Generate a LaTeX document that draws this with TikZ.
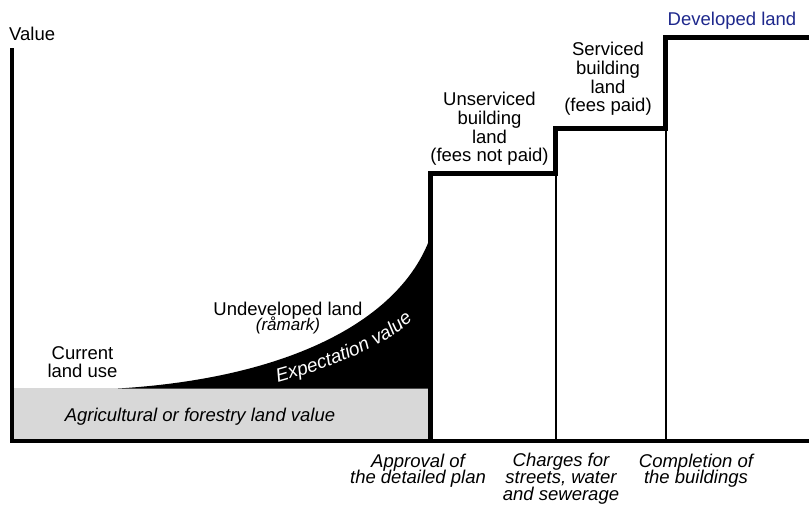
\documentclass[tikz,border=0pt]{standalone}
\usepackage{fontspec}
\setmainfont{Liberation Sans}
\usetikzlibrary{decorations.text}
\definecolor{devblue}{RGB}{30,40,140}
\definecolor{agrigrey}{RGB}{216,216,216}
\begin{document}
\begin{tikzpicture}[x=1pt,y=-1pt,
  lbl/.style={inner sep=0pt, align=center, font={\fontsize{18.5}{18.6}\selectfont\lineskiplimit=-50pt}},
  ilbl/.style={inner sep=0pt, align=center, font={\fontsize{18.5}{16.6}\selectfont\itshape\lineskiplimit=-50pt}},
  axisline/.style={line width=3.5pt},
  stepline/.style={line width=5pt, line join=miter},
  divline/.style={line width=2pt}]
\useasboundingbox (0,0) rectangle (809,504);

% agricultural base value
\fill[agrigrey] (14,388) rectangle (428,440);
% expectation value
\fill[black] (118,388.5) .. controls (290,378) and (400,320) .. (430,238) -- (430,388.5) -- cycle;
\path[decorate, decoration={text along path, text align=center, text color=white,
  text={|\fontsize{19}{19}\selectfont\itshape|Expectation value}}]
  (268,385) .. controls (320,371) and (384,351) .. (420,313);

% dividers
\draw[divline] (556,173) -- (556,441);
\draw[divline] (666,128) -- (666,441);
% step line
\draw[stepline] (430.5,441) -- (430.5,173.5) -- (555,173.5) -- (555,128.5) -- (665,128.5) -- (665,37.5) -- (812,37.5);
% axes
\draw[axisline] (12,48) -- (12,441) -- (812,441);

% labels
\node[lbl, anchor=base west] (value) at (9,40) {Value};
\node[lbl, anchor=base, text=devblue] (developed) at (732,25) {Developed land};
\node[lbl] (serviced) at (608,79) {Serviced\\building\\land\\(fees paid)};
\node[lbl] (unserviced) at (489.5,129) {Unserviced\\building\\land\\(fees not paid)};
\node[lbl] (undeveloped) at (288,317.8) {Undeveloped land\\[-3.6pt]{\fontsize{17}{17}\selectfont\itshape (råmark)}};
\node[lbl] (current) at (82.5,362.3) {Current\\land use};
\node[ilbl, anchor=base] (agri) at (200,421) {Agricultural or forestry land value};
\node[ilbl] (approval) at (418,470.8) {Approval of\\the detailed plan};
\node[ilbl] (charges) at (561,478.7) {Charges for\\streets, water\\and sewerage};
\node[ilbl] (completion) at (696,470.8) {Completion of\\the buildings};
\end{tikzpicture}
\end{document}
